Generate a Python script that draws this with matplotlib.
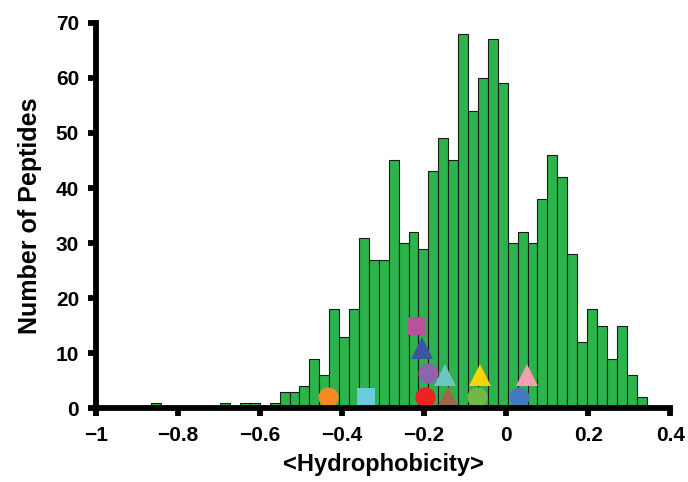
import numpy as np
import matplotlib.pyplot as plt

plt.rcParams['font.family'] = ['Liberation Sans', 'DejaVu Sans']
plt.rcParams['font.weight'] = 'bold'

# histogram: 50 bins from -0.866 to 0.342
bin_lo = -0.866
bin_hi = 0.342
counts = [1, 0, 0, 0, 0, 0, 0, 1, 0, 1,
          1, 0, 1, 3, 3, 4, 9, 6, 18, 13,
          18, 31, 27, 27, 45, 30, 32, 29, 43, 49,
          45, 68, 54, 60, 67, 59, 30, 32, 30, 38,
          46, 42, 28, 12, 18, 15, 9, 15, 6, 2]

# individual peptides drawn on top
pep_x = [-0.434, -0.341, -0.198, -0.141, -0.070, 0.031,
         -0.191, -0.148, -0.063, 0.050, -0.204, -0.217]
pep_y = [2, 2, 2, 2, 2, 2, 6.4, 6, 6, 6, 11, 15]
pep_marker = ['o', 's', 'o', '^', 'o', 'o', 'o', '^', '^', '^', '^', 's']
pep_color = ['#F58A23', '#6CCCDF', '#EC2227', '#A0684A', '#72B844', '#4479BE',
             '#8E64AA', '#6CC6C5', '#FCD20A', '#F49EB0', '#3E55A3', '#B7529F']

edges = np.linspace(bin_lo, bin_hi, len(counts) + 1)
w = edges[1] - edges[0]

fig = plt.figure(figsize=(6.88, 4.82), dpi=100)
ax = fig.add_axes([0.1391, 0.1535, 0.8352, 0.7988])

ax.bar(edges[:-1], counts, width=w, align='edge', color='#2CB34B',
       edgecolor='#1a1a1a', linewidth=0.8, zorder=2)

for x, y, m, c in zip(pep_x, pep_y, pep_marker, pep_color):
    ms = {'o': 14.5, 's': 12.5, '^': 16}[m]
    ax.plot(x, y, marker=m, color=c, markersize=ms, markeredgewidth=0,
            linestyle='none', zorder=3, clip_on=False)

ax.set_xlim(-1, 0.4)
ax.set_ylim(0, 70)
ax.set_xticks([-1, -0.8, -0.6, -0.4, -0.2, 0, 0.2, 0.4])
ax.set_xticklabels(['\u22121', '\u22120.8', '\u22120.6', '\u22120.4', '\u22120.2', '0', '0.2', '0.4'])
ax.set_yticks(range(0, 71, 10))

for s in ['top', 'right']:
    ax.spines[s].set_visible(False)
for s in ['left', 'bottom']:
    ax.spines[s].set_linewidth(4.2)
    ax.spines[s].set_capstyle('projecting')
    ax.spines[s].set_zorder(4)

ax.tick_params(axis='both', direction='out', length=6, width=4.2,
               labelsize=15, pad=6)
ax.tick_params(axis='x', pad=7)

ax.set_xlabel('<Hydrophobicity>', fontsize=17, fontweight='bold', labelpad=6)
ax.set_ylabel('Number of Peptides', fontsize=18, fontweight='bold', labelpad=10)

fig.savefig('out.png', dpi=100)
